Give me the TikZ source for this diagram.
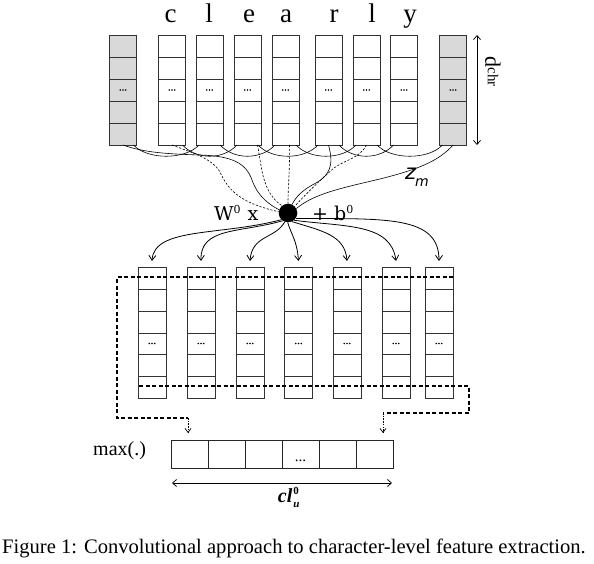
\documentclass[tikz,border=0pt]{standalone}
\usepackage{fontspec}
\setmainfont{Liberation Serif}
\newfontfamily\dvserif{DejaVu Serif}
\newfontfamily\dvsans{DejaVu Sans}
\usetikzlibrary{arrows.meta,calc}
\definecolor{graycol}{HTML}{D9D9D9}
\newcommand\tridots[2]{\fill (#1-2.8,#2) circle (0.9) (#1,#2) circle (0.9) (#1+2.8,#2) circle (0.9);}
\begin{document}
\begin{tikzpicture}[x=1pt,y=-1pt,
  topcol/.style={draw=black!80,line width=0.75pt,minimum width=27pt,minimum height=110pt,inner sep=0pt,outer sep=0pt},
  botcol/.style={draw=black!80,line width=0.75pt,minimum width=28pt,minimum height=131pt,inner sep=0pt,outer sep=0pt},
  maxcell/.style={draw=black!85,line width=0.75pt,minimum width=37pt,minimum height=28pt,inner sep=0pt,outer sep=0pt},
  cellline/.style={draw=black!80,line width=0.75pt},
  letter/.style={anchor=base,font=\fontsize{27}{27}\selectfont,inner sep=0pt},
  wire/.style={line width=0.6pt},
  dwire/.style={line width=0.6pt,dash pattern=on 2.2pt off 1.6pt},
  outarrow/.style={line width=0.8pt,-{Straight Barb[length=5pt,width=7pt]}},
  bigdash/.style={line width=1.1pt,dash pattern=on 4pt off 2.5pt},
  finedash/.style={line width=0.7pt,dash pattern=on 1.5pt off 1.2pt,-{Straight Barb[length=4pt,width=6pt]}},
  tip2/.style={line width=0.75pt,{Straight Barb[length=4pt,width=7pt]}-{Straight Barb[length=4pt,width=7pt]}}
]
\useasboundingbox (0,0) rectangle (594,564);

% letters
\node[letter] (c1) at (170.5,23) {c};
\node[letter] (c2) at (209,23) {l};
\node[letter] (c3) at (249,23) {e};
\node[letter] (c4) at (286,23) {a};
\node[letter] (c5) at (334,23) {r};
\node[letter] (c6) at (372,23) {l};
\node[letter] (c7) at (410,23) {y};

% top columns
\foreach \n/\x/\f in {0/123/graycol,1/172/white,2/209.5/white,3/247.5/white,4/285.5/white,5/328.5/white,6/366.5/white,7/404/white,8/453/graycol}{
  \node[topcol,fill=\f] (t\n) at (\x,90) {};
  \foreach \yy in {57,79,101,123}{\draw[cellline] (\x-13.5,\yy) -- (\x+13.5,\yy);}
  \tridots{\x}{90}
}

% d_chr
\coordinate (da) at (477,35);
\coordinate (db) at (477,145);
\draw[tip2] (da) -- (db);
\node[rotate=-90,inner sep=0pt] (dchr) at (493,71.5) {\fontsize{22}{22}\selectfont d\raisebox{2.5pt}{\fontsize{15}{15}\selectfont chr}};

% weight node
\node[circle,fill=black,minimum size=18.6pt,inner sep=0pt] (w) at (288,213) {};

% connecting arcs between columns
\foreach \a/\b in {0/2,1/3,2/4,3/5,4/6,5/7,6/8}{
  \draw[wire] ([xshift=-3pt]t\a.south east) .. controls +(14,15) and +(-14,15) .. ([xshift=3pt]t\b.south west);
}
% lines to the weight node
\draw[wire] (t0.south) .. controls (145,153) and (170,154) .. (200,155) .. controls (232,156) and (246,163) .. (252,180) .. controls (258,197) and (270,205) .. (w.160);
\draw[dwire] (t1.south) .. controls (190,152) and (212,158) .. (220,172) .. controls (228,190) and (240,203) .. (w.172);
\draw[dwire] ([xshift=10pt]t3.south) .. controls (262,168) and (262,192) .. (w.130);
\draw[dwire] ([xshift=4pt]t4.south) .. controls (290,170) and (288,185) .. (w.north);
\draw[wire] (t5.south) .. controls (334,165) and (330,175) .. (316,183) .. controls (302,190) and (296,197) .. (w.65);
\draw[dwire] (t6.south) .. controls (360,158) and (345,160) .. (334,168) .. controls (320,180) and (305,195) .. (w.45);
\draw[wire] (t8.south) .. controls (440,160) and (420,168) .. (395,175) .. controls (360,185) and (318,190) .. (w.28);

% labels near weight node
\node[anchor=base west,inner sep=0pt] (wlab) at (214,221) {\dvserif\fontsize{19}{19}\selectfont W\raisebox{7pt}{\fontsize{11}{11}\selectfont 0}\hspace{7pt}x};
\node[anchor=base west,inner sep=0pt] (blab) at (312,221) {\dvserif\fontsize{19}{19}\selectfont + b\raisebox{7pt}{\fontsize{11}{11}\selectfont 0}};
\node[anchor=base west,inner sep=0pt] (zlab) at (405,180) {\dvsans\itshape\fontsize{21}{21}\selectfont z\kern-1pt\raisebox{-7pt}{\fontsize{14}{14}\selectfont m}};

% bottom columns
\foreach \n/\x in {1/152,2/201,3/250,4/298.5,5/347,6/396,7/439}{
  \node[botcol] (b\n) at (\x,332.5) {};
  \foreach \yy in {289,311,333,354,376}{\draw[cellline] (\x-14,\yy) -- (\x+14,\yy);}
  \tridots{\x}{343.5}
}

% arrows from weight node
\draw[outarrow] (w.225) .. controls (220,236) and (154,227) .. ([yshift=6pt]b1.north);
\draw[outarrow] (w.235) .. controls (240,233) and (200,227) .. ([yshift=6pt]b2.north);
\draw[outarrow] (w.250) .. controls (275,239) and (252,235) .. ([yshift=6pt]b3.north);
\draw[outarrow] (w.268) .. controls (292,236) and (297,241) .. ([yshift=6pt]b4.north);
\draw[outarrow] (w.295) .. controls (322,231) and (345,235) .. ([yshift=6pt]b5.north);
\draw[outarrow] (w.310) .. controls (345,227) and (391,223) .. ([yshift=6pt]b6.north);
\draw[outarrow] (w.325) .. controls (385,219) and (439,215) .. ([yshift=6pt]b7.north);

% max box
\foreach \n in {1,...,6}{
  \node[maxcell] (m\n) at ({171+37*(\n-0.5)},454) {};
}
\node[anchor=base,inner sep=0pt] (mdots) at (m4.center) [yshift=-7pt] {\fontsize{15}{15}\selectfont ...};
\node[anchor=base west,inner sep=0pt] (maxlab) at (93,455) {\fontsize{20}{20}\selectfont max(.)};

% dashed max-pooling rows
\coordinate (p1) at (453,277);
\coordinate (p2) at (117,277);
\coordinate (p3) at (117,418);
\coordinate (p4) at (188,418);
\draw[bigdash] (p1) -- (p2) -- (p3) -- (p4);
\draw[finedash] (p4) -- (188,433);
\coordinate (q1) at (139,386);
\coordinate (q2) at (469,386);
\coordinate (q3) at (469,413);
\coordinate (q4) at (383,413);
\draw[bigdash] (q1) -- (q2) -- (q3) -- (q4);
\draw[finedash] (q4) -- (383,433);

% width arrow and label
\coordinate (ca) at (172,483);
\coordinate (cb) at (392,483);
\draw[tip2] (ca) -- (cb);
\node[anchor=base,inner sep=0pt] (cl) at (289,502) {\fontsize{20}{20}\selectfont\bfseries\itshape cl\kern1pt$\mathop{}^{\hbox{\fontsize{11}{11}\selectfont\bfseries\upshape 0}}_{\hbox{\fontsize{11}{11}\selectfont\bfseries\itshape u}}$};

% caption
\node[anchor=base west,inner sep=0pt] (cap) at (2,553) {\fontsize{20.6}{20.6}\selectfont Figure 1: Convolutional approach to character-level feature extraction.};
\end{tikzpicture}
\end{document}
